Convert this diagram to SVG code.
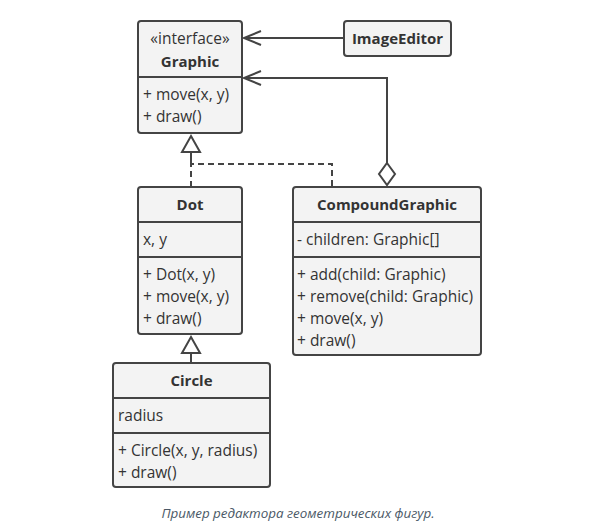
<svg xmlns="http://www.w3.org/2000/svg" width="595" height="527" viewBox="0 0 595 527">
<defs>
<style>
.box{fill:#f3f3f3;stroke:#444;stroke-width:2}
.div{stroke:#444;stroke-width:2;fill:none}
.t{font-family:"Open Sans","Noto Sans",sans-serif;font-size:15.5px;fill:#333}
.b{font-family:"Open Sans","Noto Sans",sans-serif;font-size:15px;font-weight:bold;fill:#333;text-anchor:middle}
.c{stroke:#444;stroke-width:2;fill:none}
.d{stroke:#444;stroke-width:2;fill:none;stroke-dasharray:6,4}
.cap{font-family:"Open Sans","Noto Sans",sans-serif;font-size:13.4px;font-style:italic;fill:#4a5866;text-anchor:middle}
</style>
</defs>
<rect width="595" height="527" fill="#fff"/>
<g id="connectors">
<line class="c" x1="344" y1="38" x2="244" y2="38"/>
<polyline class="c" points="261,31 244,38 261,45"/>
<polyline class="c" points="387,163 387,78 244,78"/>
<polyline class="c" points="261,71 244,78 261,85"/>
<polygon points="387,163 395,174 387,185 379,174" fill="#fff" stroke="#444" stroke-width="2"/>
<polyline class="d" points="191,187 191,164 332,164 332,187"/>
<line class="c" x1="191" y1="152" x2="191" y2="164"/>
<polygon points="191,136 200,152 182,152" fill="#fff" stroke="#444" stroke-width="2"/>
<line class="c" x1="191" y1="353" x2="191" y2="363"/>
<polygon points="191,337 200,353 182,353" fill="#fff" stroke="#444" stroke-width="2"/>
</g>
<g id="Graphic">
<rect class="box" x="138" y="21" width="104" height="112" rx="3"/>
<line class="div" x1="138" y1="77" x2="242" y2="77"/>
<text class="t" x="190" y="44" text-anchor="middle">«interface»</text>
<text class="b" x="190" y="67">Graphic</text>
<text class="t" x="143" y="100">+ move(x, y)</text>
<text class="t" x="143" y="122">+ draw()</text>
</g>
<g id="ImageEditor">
<rect class="box" x="344" y="21" width="107" height="35" rx="3"/>
<text class="b" x="397.5" y="44">ImageEditor</text>
</g>
<g id="Dot">
<rect class="box" x="138" y="187" width="104" height="147" rx="3"/>
<line class="div" x1="138" y1="222" x2="242" y2="222"/>
<line class="div" x1="138" y1="257" x2="242" y2="257"/>
<text class="b" x="190" y="210">Dot</text>
<text class="t" x="143" y="245">x, y</text>
<text class="t" x="143" y="280">+ Dot(x, y)</text>
<text class="t" x="143" y="302">+ move(x, y)</text>
<text class="t" x="143" y="324">+ draw()</text>
</g>
<g id="CompoundGraphic">
<rect class="box" x="293" y="187" width="188" height="168" rx="3"/>
<line class="div" x1="293" y1="222" x2="481" y2="222"/>
<line class="div" x1="293" y1="257" x2="481" y2="257"/>
<text class="b" x="387" y="210">CompoundGraphic</text>
<text class="t" x="297" y="245">- children: Graphic[]</text>
<text class="t" x="297" y="280">+ add(child: Graphic)</text>
<text class="t" x="297" y="302">+ remove(child: Graphic)</text>
<text class="t" x="297" y="324">+ move(x, y)</text>
<text class="t" x="297" y="346">+ draw()</text>
</g>
<g id="Circle">
<rect class="box" x="113" y="363" width="157" height="124" rx="3"/>
<line class="div" x1="113" y1="398" x2="270" y2="398"/>
<line class="div" x1="113" y1="433" x2="270" y2="433"/>
<text class="b" x="191.5" y="386">Circle</text>
<text class="t" x="118" y="421">radius</text>
<text class="t" x="118" y="456">+ Circle(x, y, radius)</text>
<text class="t" x="118" y="478">+ draw()</text>
</g>
<text class="cap" x="298" y="518">Пример редактора геометрических фигур.</text>
</svg>
